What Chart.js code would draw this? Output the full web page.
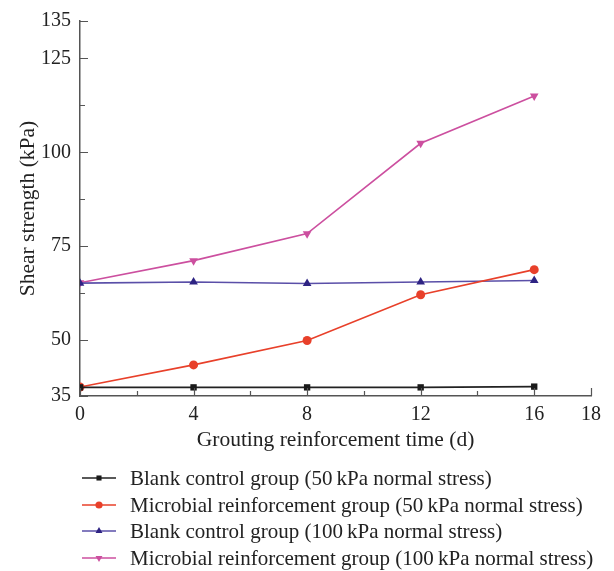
<!DOCTYPE html>
<html>
<head>
<meta charset="utf-8">
<script src="https://cdn.jsdelivr.net/npm/chart.js@4.4.1/dist/chart.umd.min.js"></script>
<style>
  html, body { margin: 0; padding: 0; background: #fff; }
  #wrap { width: 614px; height: 571px; position: relative; }
</style>
</head>
<body>
<div id="wrap"><canvas id="chart"></canvas></div>
<script>
// Grouting reinforcement time (d)
const days = [0, 4, 8, 12, 16];

// Shear strength (kPa)
const blank50 = [37.3, 37.3, 37.3, 37.3, 37.5];
const microbial50 = [37.4, 43.3, 49.8, 62.0, 68.7];
const blank100 = [65.1, 65.4, 65.0, 65.4, 65.8];
const microbial100 = [65.2, 71.1, 78.3, 102.4, 115.0];

const seriesNames = [
    'Blank control group (50\u2009kPa normal stress)',
    'Microbial reinforcement group (50\u2009kPa normal stress)',
    'Blank control group (100\u2009kPa normal stress)',
    'Microbial reinforcement group (100\u2009kPa normal stress)'
];
const xTitle = 'Grouting reinforcement time (d)';

// Tick values
const yMajorTicks = [35, 50, 75, 100, 125, 135];
const yMinorTicks = [62.5, 87.5, 112.5];
const xMajorTicks = [0, 4, 8, 12, 16, 18];
const xMinorTicks = [2, 6, 10, 14];

const FONT = '"Liberation Serif", "Times New Roman", serif';
const AXIS_COLOR = '#555';

function toPoints(vals) {
    return days.map((d, i) => ({ x: d, y: vals[i] }));
}

function makeSet(label, vals, line, fill, style, radius) {
    return {
        label: label,
        data: toPoints(vals),
        borderColor: line,
        backgroundColor: fill,
        pointBorderColor: fill,
        pointBackgroundColor: fill,
        pointStyle: style,
        pointRadius: radius,
        pointBorderWidth: 0,
        borderWidth: 1.6,
        tension: 0
    };
}

const datasets = [
    makeSet(seriesNames[0], blank50, '#222222', '#1a1a1a', 'rect', 4.5),
    makeSet(seriesNames[1], microbial50, '#e8402a', '#e8402a', 'circle', 4.5),
    makeSet(seriesNames[2], blank100, '#5a4fa8', '#2e2383', 'triangle', 5),
    makeSet(seriesNames[3], microbial100, '#cc4f9f', '#cc4f9f', 'triangle', 5)
];
// last one is a down triangle
datasets[3].pointRotation = 180;

// Draws inward tick marks, the x axis title and the legend
const decorations = {
    id: 'decorations',
    afterDraw(chart) {
        const ctx = chart.ctx;
        const xs = chart.scales.x;
        const ys = chart.scales.y;
        const area = chart.chartArea;
        ctx.save();
        ctx.strokeStyle = AXIS_COLOR;
        ctx.lineWidth = 1.2;
        ctx.beginPath();
        for (let v of yMajorTicks) {
            let py = Math.round(ys.getPixelForValue(v)) + 0.5;
            ctx.moveTo(area.left, py);
            ctx.lineTo(area.left + 8, py);
        }
        for (let v of yMinorTicks) {
            let py = Math.round(ys.getPixelForValue(v)) + 0.5;
            ctx.moveTo(area.left, py);
            ctx.lineTo(area.left + 5, py);
        }
        for (let v of xMajorTicks) {
            let px = Math.round(xs.getPixelForValue(v)) + 0.5;
            ctx.moveTo(px, area.bottom);
            ctx.lineTo(px, area.bottom - 8);
        }
        for (let v of xMinorTicks) {
            let px = Math.round(xs.getPixelForValue(v)) + 0.5;
            ctx.moveTo(px, area.bottom);
            ctx.lineTo(px, area.bottom - 5);
        }
        ctx.stroke();

        // x axis title, centred on the plot area
        ctx.fillStyle = '#222';
        ctx.font = '21.5px ' + FONT;
        ctx.textAlign = 'center';
        ctx.textBaseline = 'middle';
        ctx.fillText(xTitle, (area.left + area.right) / 2, 440);

        // legend
        ctx.textAlign = 'left';
        ctx.font = '21px ' + FONT;
        const rowY = [478, 505, 531, 558];
        chart.data.datasets.forEach((ds, i) => {
            let y = rowY[i];
            ctx.strokeStyle = ds.borderColor;
            ctx.lineWidth = 1.6;
            ctx.beginPath();
            ctx.moveTo(82, y);
            ctx.lineTo(116, y);
            ctx.stroke();
            ctx.fillStyle = ds.pointBackgroundColor;
            ctx.strokeStyle = ds.pointBorderColor;
            Chart.helpers.drawPoint(ctx, {
                pointStyle: ds.pointStyle,
                rotation: ds.pointRotation || 0,
                radius: ds.pointRadius * 0.8,
                borderWidth: 0
            }, 99, y);
            ctx.fillStyle = '#222';
            ctx.fillText(ds.label, 130, y + 1);
        });
        ctx.restore();
    }
};

new Chart(document.getElementById('chart'), {
    type: 'line',
    data: { datasets: datasets },
    options: {
        responsive: true,
        maintainAspectRatio: false,
        animation: false,
        layout: { padding: { left: 0, top: 19, right: 23, bottom: 0 } },
        plugins: {
            legend: { display: false },
            tooltip: { enabled: false }
        },
        scales: {
            x: {
                type: 'linear',
                min: 0,
                max: 18,
                afterFit: s => { s.height = 175; },
                afterBuildTicks: s => { s.ticks = xMajorTicks.map(v => ({ value: v })); },
                grid: { display: false, drawTicks: false },
                border: { display: true, color: AXIS_COLOR, width: 1.5 },
                ticks: {
                    padding: 7,
                    color: '#222',
                    font: { family: FONT, size: 20 },
                    maxRotation: 0,
                    autoSkip: false
                }
            },
            y: {
                min: 35,
                max: 135,
                afterFit: s => { s.width = 80; },
                afterBuildTicks: s => { s.ticks = yMajorTicks.map(v => ({ value: v })); },
                grid: { display: false, drawTicks: false },
                border: { display: true, color: AXIS_COLOR, width: 1.5 },
                ticks: {
                    padding: 9,
                    color: '#222',
                    font: { family: FONT, size: 20 },
                    autoSkip: false
                },
                title: {
                    display: true,
                    text: 'Shear strength (kPa)',
                    color: '#222',
                    font: { family: FONT, size: 21.5 },
                    padding: { top: 15, bottom: 0 }
                }
            }
        }
    },
    plugins: [decorations]
});
</script>
</body>
</html>
